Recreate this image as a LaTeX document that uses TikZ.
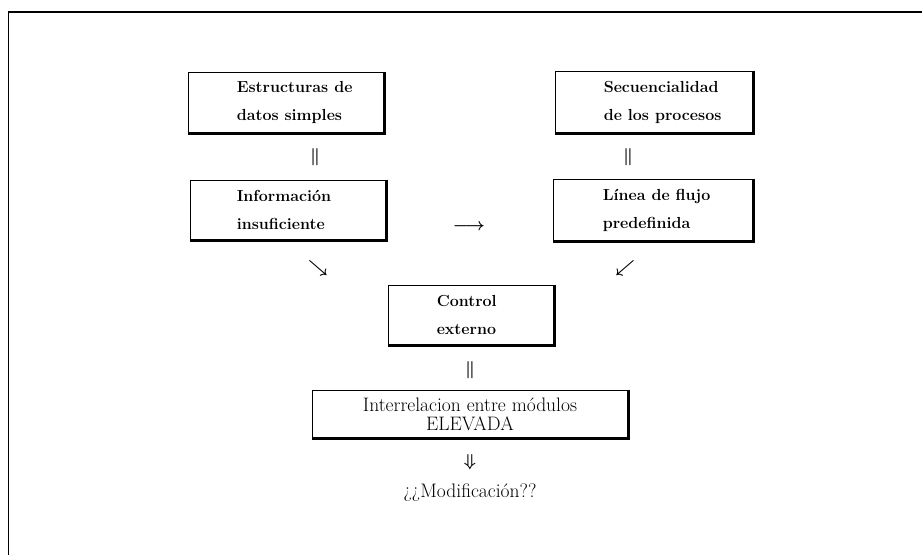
\documentclass[tikz,border=0pt]{standalone}
\begin{document}
\begin{tikzpicture}[x=1pt,y=-1pt,
  boxnode/.style={draw, line width=0.9pt, inner sep=0pt},
  boxtext/.style={anchor=west, inner sep=0pt, align=left,
    font=\bfseries\fontsize{16}{28}\selectfont},
  glyph/.style={inner sep=0pt, font=\boldmath\fontsize{18}{20}\selectfont},
  shadowline/.style={line width=2.6pt},
  plain/.style={inner sep=0pt, align=center, font=\fontsize{19.5}{19}\selectfont},
]
\useasboundingbox (0,0) rectangle (922,555);
% frame (left and top edges only visible)
\coordinate (fbl) at (8.5,555);
\coordinate (ftl) at (8.5,12);
\coordinate (ftr) at (922,12);
\draw[line width=1.8pt] (fbl) -- (ftl) -- (ftr);

\node[boxnode, minimum width=196pt, minimum height=61pt] (b1) at (286,102.5) {};
\node[boxnode, minimum width=198pt, minimum height=62pt] (b2) at (654,102) {};
\node[boxnode, minimum width=196pt, minimum height=60pt] (b3) at (288,210) {};
\node[boxnode, minimum width=200pt, minimum height=62pt] (b4) at (653,210) {};
\node[boxnode, minimum width=166pt, minimum height=60pt] (b5) at (471,315) {};
\node[boxnode, minimum width=316pt, minimum height=48pt, align=center,
      font=\fontsize{19.5}{19}\selectfont] (b6) at (470,414) {Interrelacion entre módulos\\ELEVADA};

\node[boxtext] (t1) at ([xshift=49pt]b1.west) {Estructuras de\\datos simples};
\node[boxtext] (t2) at ([xshift=49pt]b2.west) {Secuencialidad\\de los procesos};
\node[boxtext] (t3) at ([xshift=47pt]b3.west) {Información\\insuficiente};
\node[boxtext] (t4) at ([xshift=50pt]b4.west) {Línea de flujo\\predefinida};
\node[boxtext] (t5) at ([xshift=49pt]b5.west) {Control\\externo};

\foreach \b in {b1,b2,b3,b4,b5,b6}{
  \draw[shadowline] (\b.north east) -- (\b.south east) -- (\b.south west);
}

\node[glyph] (e1) at (315,157) {$\Vert$};
\node[glyph] (e2) at (628,157) {$\Vert$};
\node[glyph] (ar) at (469,227) {$\longrightarrow$};
\node[glyph] (se) at (318,268) {$\searrow$};
\node[glyph] (sw) at (625,268) {$\swarrow$};
\node[glyph] (e3) at (470,370) {$\Vert$};
\node[glyph] (dn) at (470,462) {$\Downarrow$};
\node[plain] (mod) at (470,493) {¿¿Modificación??};
\end{tikzpicture}
\end{document}
